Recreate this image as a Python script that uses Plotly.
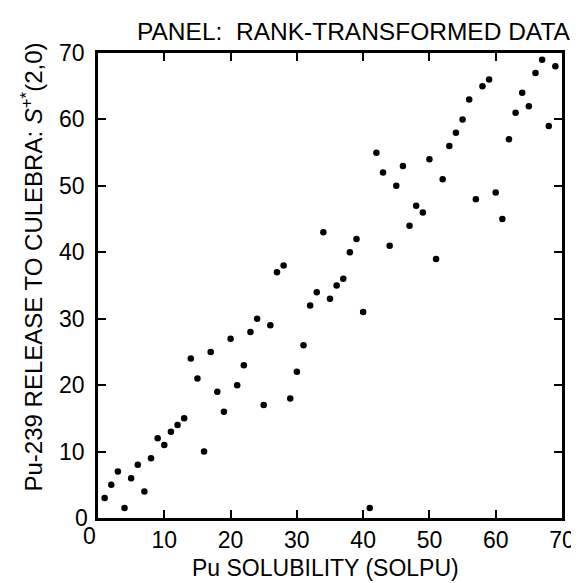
import plotly.graph_objects as go

# Rank-transformed data: Pu solubility (SOLPU) vs Pu-239 release rank
solpu_rank = [1, 2, 3, 4, 5, 6, 7, 8, 9, 10,
              11, 12, 13, 14, 15, 16, 17, 18, 19, 20,
              21, 22, 23, 24, 25, 26, 27, 28, 29, 30,
              31, 32, 33, 34, 35, 36, 37, 38, 39, 40,
              41, 42, 43, 44, 45, 46, 47, 48, 49, 50,
              51, 52, 53, 54, 55, 56, 57, 58, 59, 60,
              61, 62, 63, 64, 65, 66, 67, 68, 69]
release_rank = [3, 5, 7, 1.5, 6, 8, 4, 9, 12, 11,
                13, 14, 15, 24, 21, 10, 25, 19, 16, 27,
                20, 23, 28, 30, 17, 29, 37, 38, 18, 22,
                26, 32, 34, 43, 33, 35, 36, 40, 42, 31,
                1.5, 55, 52, 41, 50, 53, 44, 47, 46, 54,
                39, 51, 56, 58, 60, 63, 48, 65, 66, 49,
                45, 57, 61, 64, 62, 67, 69, 59, 68]
tick_vals = [0, 10, 20, 30, 40, 50, 60, 70]
tick_text = ["", "10", "20", "30", "40", "50", "60", "70"]  # the "0" labels are placed separately

FONT = "Liberation Sans, Arial, Helvetica, sans-serif"
TICK_SIZE = 23

fig = go.Figure()
fig.add_trace(go.Scatter(
    x=solpu_rank, y=release_rank, mode="markers",
    marker=dict(color="black", size=6.5, symbol="circle"),
    cliponaxis=False, showlegend=False,
))

axis_common = dict(
    range=[0, 70], tickvals=tick_vals, ticktext=tick_text,
    showline=True, linecolor="black", linewidth=2.5, mirror="ticks",
    ticks="inside", ticklen=8, tickwidth=2, tickcolor="black",
    showgrid=False, zeroline=False,
    tickfont=dict(family=FONT, size=TICK_SIZE, color="black"),
)

fig.update_layout(
    width=579, height=583,
    margin=dict(l=90, r=12, t=45, b=73),
    paper_bgcolor="white", plot_bgcolor="white",
    xaxis=dict(**axis_common),
    yaxis=dict(**axis_common, ticklabelstandoff=6),
    annotations=[
        dict(text="PANEL:  RANK-TRANSFORMED DATA", xref="paper", yref="paper",
             x=(578 - 90) / 477, y=1, xanchor="right", yanchor="middle", yshift=22,
             showarrow=False, font=dict(family=FONT, size=24.5, color="black")),
        dict(text="Pu SOLUBILITY (SOLPU)", xref="paper", yref="paper", x=0.49, y=0,
             xanchor="center", yanchor="middle", yshift=-50, showarrow=False,
             font=dict(family=FONT, size=23, color="black")),
        dict(text="Pu-239 RELEASE TO CULEBRA: <i>S</i><sup>+*</sup>(2,0)",
             xref="paper", yref="paper", x=0, y=0.5, xanchor="center", yanchor="middle",
             xshift=-67, yshift=18, textangle=-90, showarrow=False,
             font=dict(family=FONT, size=24, color="black")),
        dict(text="0", xref="paper", yref="paper", x=0, y=0, xanchor="center",
             yanchor="middle", xshift=-17, yshift=0, showarrow=False,
             font=dict(family=FONT, size=TICK_SIZE, color="black")),
        dict(text="0", xref="paper", yref="paper", x=0, y=0, xanchor="center",
             yanchor="middle", xshift=-9, yshift=-18, showarrow=False,
             font=dict(family=FONT, size=TICK_SIZE, color="black")),
    ],
)

fig.write_html("out.html")
